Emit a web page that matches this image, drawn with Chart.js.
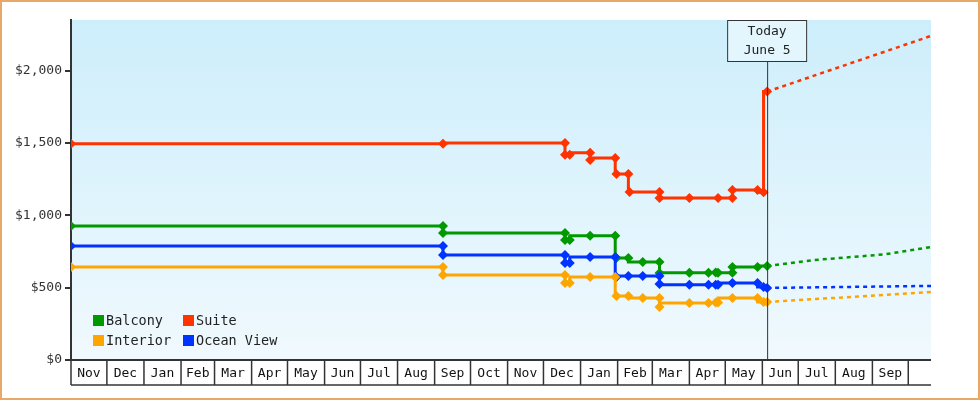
<!DOCTYPE html>
<html><head><meta charset="utf-8">
<script src="https://cdn.jsdelivr.net/npm/chart.js@4"></script>
<style>html,body{margin:0;padding:0;background:#fff}#w{width:980px;height:400px}</style>
</head><body><div id="w"><canvas id="c"></canvas></div>
<script>
// x values = days since 2022-11-01
const monthLabels = ["Nov","Dec","Jan","Feb","Mar","Apr","May","Jun","Jul","Aug","Sep","Oct","Nov","Dec","Jan","Feb","Mar","Apr","May","Jun","Jul","Aug","Sep","Oct"];
const yTicks = [0,500,1000,1500,2000];
const todayDay = 582;
const balconyDays = [0,311,311,413,413,417,434,455,456,466,478,492,492,517,533,539,541,553,553,574,582];
const balconyPrices = [927,927,878,878,830,830,858,858,705,705,677,677,602,603,603,605,603,603,643,643,650];
const suiteDays = [0,311,413,413,417,434,434,455,456,466,467,492,492,517,541,553,553,574,579,582];
const suitePrices = [1494,1494,1500,1418,1418,1432,1383,1397,1286,1286,1162,1162,1120,1120,1120,1120,1175,1175,1160,1855];
const oceanDays = [0,311,311,413,413,417,434,455,456,466,478,492,492,517,533,539,541,553,574,579,582];
const oceanPrices = [788,788,726,726,671,671,712,712,574,581,581,581,526,520,520,520,520,533,533,505,498];
const interiorDays = [0,311,311,413,413,417,434,455,456,466,478,492,492,517,533,539,541,553,574,579,582];
const interiorPrices = [643,643,588,588,533,533,574,574,443,443,429,429,367,394,394,398,398,429,429,401,401];
const fcBalconyDays = [582,620,680,719], fcBalconyPrices = [650,690,730,781];
const fcSuiteDays = [582,719], fcSuitePrices = [1855,2240];
const fcOceanDays = [582,600,650,719], fcOceanPrices = [498,500,505,512];
const fcInteriorDays = [582,640,719], fcInteriorPrices = [401,430,470];

const FONT = "'DejaVu Sans Mono', monospace";
const pts = (d,v)=>d.map((x,i)=>({x, y:v[i]}));
function ds(label,d,v,color){return {label,data:pts(d,v),borderColor:color,backgroundColor:color,borderWidth:3,stepped:'after',pointStyle:'rectRot',pointRadius:5,pointBorderWidth:0};}
function fc(d,v,color){return {label:'',forecast:true,data:pts(d,v),borderColor:color,borderWidth:2.5,borderDash:[4,4],pointRadius:0};}
const start = new Date(2022,10,1);
const monthStarts = monthLabels.map((m,i)=>Math.round((new Date(2022,10+i,1)-start)/86400000));
monthStarts.push(Math.round((new Date(2022,10+monthLabels.length,1)-start)/86400000));

const deco = {
  id:'deco',
  beforeDraw(ch){
    const {ctx,chartArea:a}=ch;
    const g=ctx.createLinearGradient(0,a.top,0,a.bottom);
    g.addColorStop(0,'#cdeefb');g.addColorStop(1,'#f0f9fe');
    ctx.save();ctx.fillStyle=g;ctx.fillRect(a.left,a.top,a.right-a.left,a.bottom-a.top);ctx.restore();
  },
  afterDraw(ch){
    const {ctx,chartArea:a,scales:{x,y}}=ch;
    ctx.save();
    ctx.strokeStyle='#333';ctx.lineWidth=2;
    ctx.beginPath();ctx.moveTo(a.left-6,a.bottom);ctx.lineTo(a.right,a.bottom);ctx.stroke();
    ctx.lineWidth=1.5;
    ctx.beginPath();ctx.moveTo(a.left,a.bottom+25);ctx.lineTo(a.right,a.bottom+25);ctx.stroke();
    ctx.font='13px '+FONT;ctx.fillStyle='#111';ctx.textAlign='center';ctx.textBaseline='middle';
    for(let i=0;i<monthLabels.length;i++){
      const x0=x.getPixelForValue(monthStarts[i]);
      let x1=Math.min(x.getPixelForValue(monthStarts[i+1]),a.right);
      if(x0>=a.right)break;
      ctx.beginPath();ctx.moveTo(x0,a.bottom);ctx.lineTo(x0,a.bottom+25);ctx.stroke();
      if(x1-x0>25)ctx.fillText(monthLabels[i],(x0+x1)/2,a.bottom+14);
    }
    const tx=x.getPixelForValue(todayDay);
    ctx.strokeStyle='#333';ctx.lineWidth=1;
    ctx.beginPath();ctx.moveTo(tx+0.5,62);ctx.lineTo(tx+0.5,a.bottom);ctx.stroke();
    ctx.fillStyle='#e3f6fd';ctx.fillRect(tx-40,20,80,42);
    ctx.strokeRect(tx-39.5,20.5,79,41);
    ctx.fillStyle='#222';
    ctx.fillText('Today',tx,32);ctx.fillText('June 5',tx,51);
    const items=[['Balcony','#009900',93,320],['Suite','#ff3300',183,320],['Interior','#ffa500',93,340],['Ocean View','#0033ff',183,340]];
    ctx.textAlign='left';ctx.font='13.5px '+FONT;
    items.forEach(([t,c,lx,ly])=>{ctx.fillStyle=c;ctx.fillRect(lx,ly-5,11,11);ctx.fillStyle='#222';ctx.fillText(t,lx+13,ly+1);});
    ctx.strokeStyle='#e8a868';ctx.lineWidth=2;ctx.strokeRect(1,1,978,398);
    ctx.restore();
  }
};

new Chart(document.getElementById('c'),{
  type:'line',
  data:{datasets:[
    fc(fcSuiteDays,fcSuitePrices,'#ff3300'),fc(fcBalconyDays,fcBalconyPrices,'#009900'),
    fc(fcOceanDays,fcOceanPrices,'#0033ff'),fc(fcInteriorDays,fcInteriorPrices,'#ffa500'),
    ds('Interior',interiorDays,interiorPrices,'#ffa500'),
    ds('Ocean View',oceanDays,oceanPrices,'#0033ff'),
    ds('Balcony',balconyDays,balconyPrices,'#009900'),
    ds('Suite',suiteDays,suitePrices,'#ff3300')
  ]},
  options:{
    responsive:true,maintainAspectRatio:false,animation:false,
    layout:{padding:{left:0,right:49,top:20,bottom:40}},
    plugins:{legend:{display:false},tooltip:{enabled:false}},
    scales:{
      x:{type:'linear',min:0,max:719,display:false},
      y:{min:0,max:2350,
        afterFit(s){s.width=71;},
        afterBuildTicks(s){s.ticks=yTicks.map(v=>({value:v}));},
        border:{color:'#333',width:2},
        grid:{drawOnChartArea:false,tickLength:6,color:'#333',lineWidth:2},
        ticks:{color:'#333',font:{family:FONT,size:13},padding:3,callback:v=>'$'+v.toLocaleString('en-US')}
      }
    }
  },
  plugins:[deco]
});
</script></body></html>
